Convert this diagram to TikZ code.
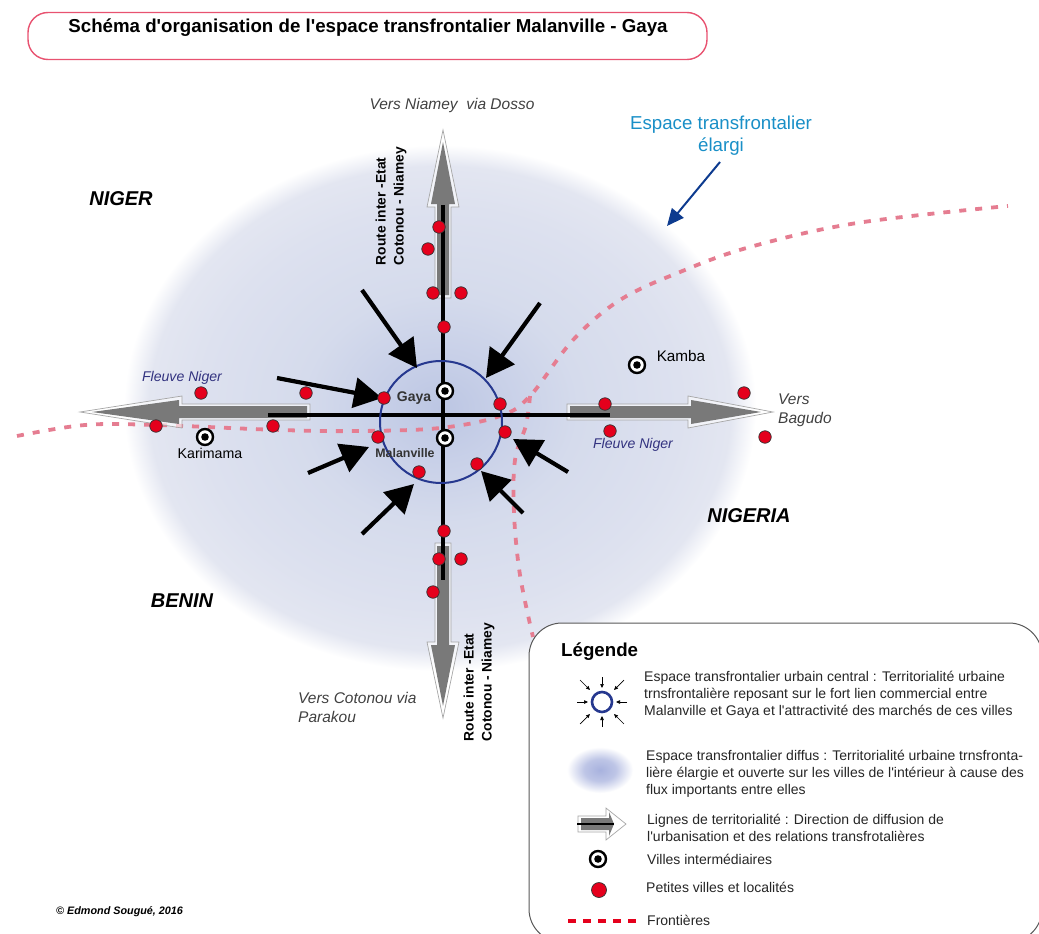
\documentclass[tikz,border=0pt]{standalone}
\usepackage{fontspec}
\setmainfont{Liberation Sans}
\usepackage{xcolor}
\usetikzlibrary{arrows.meta}
\definecolor{titlered}{rgb}{0.91,0.32,0.44}
\definecolor{borderpink}{rgb}{0.90,0.49,0.57}
\definecolor{ringblue}{rgb}{0.15,0.22,0.56}
\definecolor{cityred}{rgb}{0.90,0.0,0.11}
\definecolor{labelblue}{rgb}{0.10,0.56,0.78}
\definecolor{arrowblue}{rgb}{0.05,0.23,0.56}
\definecolor{riverblue}{rgb}{0.20,0.20,0.50}
\definecolor{blobzero}{HTML}{BCC6E3}
\definecolor{blobone}{HTML}{C8D0E8}
\definecolor{blobtwo}{HTML}{D5DBEC}
\definecolor{blobthree}{HTML}{DDE1EF}
\definecolor{blobfour}{HTML}{E3E6F1}
\definecolor{iconcore}{HTML}{A8B2DE}
\pgfdeclareradialshading{blobshade}{\pgfpoint{0bp}{0bp}}{
color(0bp)=(blobzero); color(5bp)=(blobone); color(11bp)=(blobtwo); color(19bp)=(blobthree); color(23bp)=(blobfour); color(25bp)=(white); color(50bp)=(white)}
\pgfdeclareradialshading{iconshade}{\pgfpoint{0bp}{0bp}}{
color(0bp)=(iconcore); color(12bp)=(iconcore!75!white); color(25bp)=(white); color(50bp)=(white)}
\tikzset{pics/roadarrow/.style n args={2}{code={
\draw[draw=gray!70, fill=white, fill opacity=0.6, line width=0.7pt] (0,-8) -- ({#1-#2},-8) -- ({#1-#2},-16) -- (#1,0) -- ({#1-#2},16) -- ({#1-#2},8) -- (0,8) -- cycle;
\fill[gray!95!black] (3,-6) -- ({#1-#2+3},-6) -- ({#1-#2+3},-12) -- ({#1-12},0) -- ({#1-#2+3},12) -- ({#1-#2+3},6) -- (3,6) -- cycle;
}}}
\begin{document}
\begin{tikzpicture}[x=1pt,y=-1pt,
border/.style={borderpink, line width=3.8pt, dash pattern=on 7pt off 9pt},
crossline/.style={black, line width=3.6pt},
pullarrow/.style={black, line width=4.2pt, -{Triangle[length=28pt,width=30pt]}},
smallarrow/.style={black, line width=0.7pt, -{Triangle[length=4pt,width=3.5pt]}},
ville/.style={circle, draw=black, line width=2.4pt, fill=white, minimum size=16pt, inner sep=0pt, path picture={\fill[black] (path picture bounding box.center) circle (3.8pt);}},
localite/.style={circle, draw=black!80, line width=0.7pt, fill=cityred, minimum size=12.5pt, inner sep=0pt},
country/.style={font=\fontsize{20}{22}\selectfont\bfseries\itshape},
river/.style={font=\fontsize{14.1}{16}\selectfont\itshape, riverblue},
via/.style={font=\fontsize{15.5}{19}\selectfont\itshape, black!75, align=left},
route/.style={font=\fontsize{13.8}{18}\selectfont\bfseries, rotate=90, align=left},
legendtext/.style={font=\fontsize{14}{17}\selectfont, black!85, align=left, anchor=north west, inner sep=0pt}]
\useasboundingbox (0,0) rectangle (1039,934);
\shade[shading=blobshade] (440,408) ellipse (316 and 263);
\draw[border] plot[smooth, tension=0.6] coordinates {(17,436) (85,425) (156,425) (280,430) (360,431) (440,428) (500,416) (530,396) (573,340) (620,300) (680,272) (750,247) (857,223) (1008,206)};
\draw[border] plot[smooth, tension=0.6] coordinates {(530,396) (526,425) (515,460) (514,513) (520,575) (533,637)};
\pic at (443,298) [rotate=90] {roadarrow={168}{77}};
\pic at (443,543) [rotate=-90] {roadarrow={175}{76}};
\pic at (310,412) [rotate=180] {roadarrow={230}{102}};
\pic at (567,412) {roadarrow={206}{85}};
\coordinate (northend) at (443,205);
\coordinate (southend) at (443,580);
\coordinate (westend) at (268,415);
\coordinate (eastend) at (610,415);
\draw[crossline] (northend) -- (southend);
\draw[crossline] (westend) -- (eastend);
\node[circle, draw=ringblue, line width=2pt, minimum size=122pt, inner sep=0pt] (ring) at (441,422) {};
\foreach \tailx/\taily/\tipx/\tipy [count=\i] in {362/290/417/368, 540/303/486/378, 277/378/382/398, 308/473/369/447, 362/534/414/484, 523/513/481/471, 568/472/513/439} {
\coordinate (tail\i) at (\tailx,\taily);
\coordinate (tip\i) at (\tipx,\tipy);
\draw[pullarrow] (tail\i) -- (tip\i);
}
\foreach \x/\y [count=\i] in {439/227, 428/249, 433/293, 461/293, 444/327, 201/393, 306/393, 384/398, 500/404, 156/426, 273/426, 378/437, 505/432, 477/464, 419/472, 605/404, 610/431, 744/393, 765/437, 444/531, 439/559, 461/559, 433/592}
\node[localite] (place\i) at (\x,\y) {};
\node[ville] (gayamark) at (445,391) {};
\node[ville] (malanvillemark) at (445,438) {};
\node[ville] (kambamark) at (637,365) {};
\node[ville] (karimamamark) at (205,437) {};
\node[font=\fontsize{15.3}{17}\selectfont] (kamba) at (681,356) {Kamba};
\node[font=\fontsize{14.2}{16}\selectfont] (karimama) at (210,453) {Karimama};
\node[font=\fontsize{14}{16}\selectfont\bfseries, black!80] (gaya) at (414,398) {Gaya};
\node[font=\fontsize{12.4}{14}\selectfont\bfseries, black!80] (malanville) at (405,453) {Malanville};
\node[draw=titlered, line width=1.4pt, rounded corners=20pt, minimum width=679pt, minimum height=47pt] (titlebox) at (367.5,36) {};
\node[font=\fontsize{18.7}{20}\selectfont\bfseries] (title) at (368,28) {Schéma d\textquotesingle organisation de l\textquotesingle espace transfrontalier Malanville - Gaya};
\node[via] (vniamey) at (452,105) {Vers Niamey\ \ via Dosso};
\node[via, anchor=north west, inner sep=0pt] (vbagudo) at (778,394) {Vers\\Bagudo};
\node[via, anchor=north west, inner sep=0pt] (vcotonou) at (298,692) {Vers Cotonou via\\Parakou};
\node[route] (routenorth) at (391,206) {Route inter -Etat\\Cotonou - Niamey};
\node[route] (routesouth) at (479,682) {Route inter -Etat\\Cotonou - Niamey};
\node[country] (niger) at (121,199) {NIGER};
\node[country] (nigeria) at (749,516) {NIGERIA};
\node[country] (benin) at (182,601) {BENIN};
\node[river] (fleuvewest) at (182,378) {Fleuve Niger};
\node[river] (fleuveeast) at (633,445) {Fleuve Niger};
\node[font=\fontsize{18.7}{22}\selectfont, labelblue, align=center] (elargi) at (721,136) {Espace transfrontalier\\élargi};
\coordinate (elargitail) at (720,162);
\coordinate (elargitip) at (667,226);
\draw[arrowblue, line width=2pt, -{Triangle[length=17pt,width=15pt]}] (elargitail) -- (elargitip);
\node[font=\fontsize{10.8}{12}\selectfont\bfseries\itshape, anchor=west, inner sep=0pt] (credit) at (56,912) {© Edmond Sougué, 2016};
\draw[draw=black!65, line width=1pt, fill=white, rounded corners=33pt] (529,623) rectangle (1042,942);
\node[font=\fontsize{18.7}{20}\selectfont\bfseries, anchor=west, inner sep=0pt] (legendtitle) at (561,652) {Légende};
\node[circle, draw=ringblue, line width=2.6pt, minimum size=20pt, inner sep=0pt] (ringicon) at (602,702) {};
\foreach \ang/\rout/\rin in {0/25/14, 45/31/17, 90/25/14, 135/31/17, 180/25/14, 225/31/17, 270/25/14, 315/31/17}
\draw[smallarrow] ([shift={(\ang:\rout)}]ringicon.center) -- ([shift={(\ang:\rin)}]ringicon.center);
\shade[shading=iconshade] (600,770) ellipse (33 and 23);
\pic at (578,824) {roadarrow={48}{20}};
\coordinate (linetail) at (577,824);
\coordinate (linehead) at (614,824);
\draw[black, line width=2.6pt] (linetail) -- (linehead);
\node[ville] (villeicon) at (598,859) {};
\node[localite, minimum size=15pt] (localiteicon) at (599,890) {};
\coordinate (frontierea) at (568,921);
\coordinate (frontiereb) at (636,921);
\draw[cityred, line width=4pt, dash pattern=on 8pt off 7pt] (frontierea) -- (frontiereb);
\node[legendtext] (legendone) at (644,671) {Espace transfrontalier urbain central : Territorialité urbaine\\trnsfrontalière reposant sur le fort lien commercial entre\\Malanville et Gaya et l\textquotesingle attractivité des marchés de ces villes};
\node[legendtext] (legendtwo) at (646,750) {Espace transfrontalier diffus : Territorialité urbaine trnsfronta-\\lière élargie et ouverte sur les villes de l\textquotesingle intérieur à cause des\\flux importants entre elles};
\node[legendtext] (legendthree) at (647,814) {Lignes de territorialité : Direction de diffusion de\\l\textquotesingle urbanisation et des relations transfrotalières};
\node[legendtext] (legendfour) at (647,854) {Villes intermédiaires};
\node[legendtext] (legendfive) at (646,882) {Petites villes et localités};
\node[legendtext] (legendsix) at (647,915) {Frontières};
\end{tikzpicture}
\end{document}
